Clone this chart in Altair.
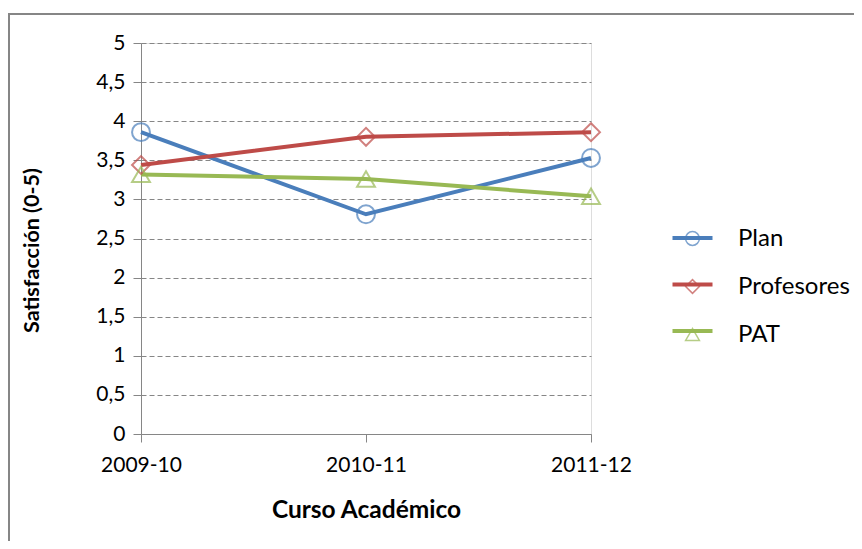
import altair as alt
import pandas as pd

cursos = ["2009-10", "2010-11", "2011-12"]
series = ["Plan", "Profesores", "PAT"]
plan = [3.86, 2.81, 3.53]
profesores = [3.44, 3.80, 3.86]
pat = [3.32, 3.26, 3.04]
colores = ["#4A7EBB", "#BE4B48", "#98B954"]
formas = ["circle", "diamond", "triangle-up"]
y_ticks = [0, 0.5, 1, 1.5, 2, 2.5, 3, 3.5, 4, 4.5, 5]

rows = []
for s, vals in zip(series, [plan, profesores, pat]):
    for c, v in zip(cursos, vals):
        rows.append({"curso": c, "serie": s, "marcador": s, "valor": v})
df = pd.DataFrame(rows)

FONT = "Lato"
GRAY = "#868686"

x = alt.X("curso:N", sort=cursos, title="Curso Académico",
          scale=alt.Scale(type="point", padding=0),
          axis=alt.Axis(labelAngle=0, grid=False, tickSize=8, tickColor=GRAY,
                        domainColor=GRAY, labelPadding=12, titlePadding=23,
                        labelFontSize=21, titleFontSize=24.5, titleFontWeight="bold",
                        labelColor="#000", titleColor="#000"))
y = alt.Y("valor:Q", title="Satisfacción (0-5)",
          scale=alt.Scale(domain=[0, 5], nice=False, zero=True),
          axis=alt.Axis(values=y_ticks, grid=True, gridColor=GRAY, gridDash=[5, 3],
                        tickSize=8, tickColor=GRAY, domainColor=GRAY, labelPadding=8,
                        labelExpr="replace(format(datum.value, '~g'), '.', ',')",
                        labelFontSize=21, titleFontSize=21.5, titleFontWeight="bold",
                        labelColor="#000", titleColor="#000", titlePadding=52,
                        titleY=207))

base = alt.Chart(df)

# line legend (line segments only; its labels are transparent and pushed off to the right)
lines = base.mark_line(strokeWidth=4).encode(
    x=x, y=y,
    color=alt.Color("serie:N", sort=series,
                    scale=alt.Scale(range=colores),
                    legend=alt.Legend(orient="none", legendX=529.5, legendY=173, title=None,
                                      symbolType="stroke", symbolSize=1600,
                                      symbolStrokeWidth=4, padding=0, rowPadding=12.5,
                                      labelOpacity=0, labelOffset=300,
                                      labelFontSize=23, labelFont=FONT)),
)

# marker legend (hollow markers with labels) drawn over the line legend
leg_markers = alt.Legend(orient="none", legendX=539.5, legendY=183.5, title=None,
                         symbolSize=190, symbolStrokeWidth=1.5, padding=0,
                         rowPadding=24, labelOffset=33.5, labelFontSize=24,
                         labelFont=FONT, labelColor="#000")
points = base.mark_point(filled=False, size=320, strokeWidth=2).encode(
    x=x, y=y,
    stroke=alt.Stroke("marcador:N",
                      scale=alt.Scale(domain=series, range=colores), legend=leg_markers),
    shape=alt.Shape("marcador:N",
                    scale=alt.Scale(domain=series, range=formas), legend=leg_markers),
)

frame_left = alt.Chart(pd.DataFrame({"a": [0]})).mark_rule(
    color=GRAY, strokeWidth=2
).encode(x=alt.value(-132), y=alt.value(-30), y2=alt.value(2000))
frame_top = alt.Chart(pd.DataFrame({"a": [0]})).mark_rule(
    color=GRAY, strokeWidth=2
).encode(x=alt.value(-133), x2=alt.value(2000), y=alt.value(-29))

chart = alt.layer(frame_left, frame_top, lines, points).properties(
    width=450, height=391,
    autosize=alt.AutoSizeParams(type="none"),
    padding={"left": 133, "top": 35, "right": 263, "bottom": 107},
).configure_view(stroke=None).configure(font=FONT)

chart.save("out.html", embed_options={"renderer": "svg", "actions": False})
